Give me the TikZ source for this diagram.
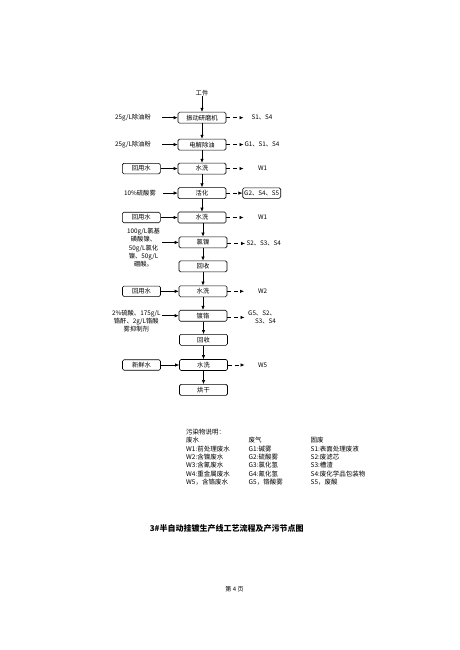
\documentclass[tikz,border=0pt]{standalone}
\usepackage{fontspec}
\setmainfont{Noto Sans CJK SC}
\usetikzlibrary{arrows.meta}
\begin{document}
\begin{tikzpicture}[x=1pt,y=-1pt,
  font=\fontsize{6.3}{8.3}\selectfont,
  proc/.style={draw,rounded corners=1.5pt,minimum width=48pt,minimum height=11pt,inner sep=0pt,line width=0.6pt},
  side/.style={draw,rounded corners=1.5pt,minimum width=38pt,minimum height=10.5pt,inner sep=0pt,line width=0.6pt},
  flow/.style={-{Latex[length=4pt,width=3.4pt]},line width=0.6pt},
  emit/.style={flow,dash pattern=on 4pt off 2.7pt},
  lbl/.style={inner sep=0pt},
  mlbl/.style={inner sep=0pt,align=center},
  leg/.style={inner sep=0pt,anchor=west,font=\fontsize{6.5}{8}\selectfont}]
\path[use as bounding box,fill=white] (0,0) rectangle (460,650);

% main process column
\node[lbl] (wp) at (202,93.2) {工件};
\node[proc] (p1) at (202,117.7) {振动研磨机};
\node[proc] (p2) at (202,144.6) {电解除油};
\node[proc] (p3) at (202,168.6) {水洗};
\node[proc] (p4) at (202,193.1) {活化};
\node[proc] (p5) at (202,217.5) {水洗};
\node[proc] (p6) at (203,242.4) {氯镍};
\node[proc] (p7) at (203,266.4) {回收};
\node[proc] (p8) at (203,291.3) {水洗};
\node[proc] (p9) at (203,315.7) {镀铬};
\node[proc] (p10) at (203.5,339.8) {回收};
\node[proc] (p11) at (203.5,365.0) {水洗};
\node[proc] (p12) at (203.5,389.9) {烘干};

\draw[flow] (wp) -- (p1);
\draw[flow] (p1) -- (p2);
\draw[flow] (p2) -- (p3);
\draw[flow] (p3) -- (p4);
\draw[flow] (p4) -- (p5);
\draw[flow] (p5.south -| p6) -- (p6);
\draw[flow] (p6) -- (p7);
\draw[flow] (p7) -- (p8);
\draw[flow] (p8) -- (p9);
\draw[flow] (p9.south -| p10) -- (p10);
\draw[flow] (p10) -- (p11);
\draw[flow] (p11) -- (p12);

% inputs on the left
\node[lbl] (i1) at (133,117.7) {25g/L除油粉};
\node[lbl] (i2) at (133,144.6) {25g/L除油粉};
\node[side] (i3) at (141.3,168.6) {回用水};
\node[lbl] (i4) at (140,193.1) {10\%硫酸雾};
\node[side] (i5) at (141.3,217.5) {回用水};
\node[mlbl] (i6) at (143.5,247.8) {100g/L氯基\\磺酸镍、\\50g/L氯化\\镍、50g/L\\硼酸。};
\node[side] (i8) at (141.5,291.3) {回用水};
\node[mlbl] (i9) at (136.3,321.1) {2\%硫酸、175g/L\\铬酐、2g/L铬酸\\雾抑制剂};
\node[side] (i11) at (141.5,365.0) {新鲜水};

\draw[flow,shorten <=11pt] (i1) -- (p1);
\draw[flow,shorten <=11pt] (i2) -- (p2);
\draw[flow] (i3) -- (p3);
\draw[flow,shorten <=7pt] (i4) -- (p4);
\draw[flow] (i5) -- (p5);
\draw[flow,shorten <=2pt] (i6.east |- p6) -- (p6);
\draw[flow] (i8) -- (p8);
\draw[flow,shorten <=1pt] (i9.east |- p9) -- (p9);
\draw[flow] (i11) -- (p11);

% emissions on the right
\coordinate (e1) at (243.5,117.7);
\coordinate (e2) at (243.5,144.6);
\coordinate (e3) at (243.5,168.6);
\coordinate (e5) at (243.5,217.5);
\coordinate (e6) at (245,243.5);
\coordinate (e8) at (244,291.3);
\coordinate (e9) at (244.5,317.4);
\coordinate (e11) at (244.5,365.0);

\node[lbl] (o1) at (262,117.7) {S1、S4};
\node[lbl] (o2) at (262,144.6) {G1、S1、S4};
\node[lbl] (o3) at (262.7,168.6) {W1};
\node[side] (o4) at (261.7,193.1) {G2、S4、S5};
\node[lbl] (o5) at (262.7,217.5) {W1};
\node[lbl] (o6) at (263.7,243.5) {S2、S3、S4};
\node[lbl] (o8) at (262.7,291.3) {W2};
\node[mlbl,align=right] (o9) at (262,317.2) {G5、S2、\\S3、S4};
\node[lbl] (o11) at (262.7,365.0) {W5};

\draw[emit] (p1) -- (e1);
\draw[emit] (p2) -- (e2);
\draw[emit] (p3) -- (e3);
\draw[emit] (p4) -- (o4);
\draw[emit] (p5) -- (e5);
\draw[emit] (p6.east |- e6) -- (e6);
\draw[emit] (p8) -- (e8);
\draw[emit] (p9.east |- e9) -- (e9);
\draw[emit] (p11) -- (e11);

% legend
\node[leg] (lg) at (186,432.2) {污染物说明：};
\node[leg] (hw) at (186,440.4) {废水};
\node[leg] (hg) at (248.5,440.4) {废气};
\node[leg] (hs) at (310.5,440.4) {固废};
\node[leg] (w1) at (186,448.7) {W1:前处理废水};
\node[leg] (w2) at (186,457.0) {W2:含镍废水};
\node[leg] (w3) at (186,465.3) {W3:含氰废水};
\node[leg] (w4) at (186,473.6) {W4:重金属废水};
\node[leg] (w5) at (186,481.9) {W5，含铬废水};
\node[leg] (g1) at (248.5,448.7) {G1:碱雾};
\node[leg] (g2) at (248.5,457.0) {G2:硫酸雾};
\node[leg] (g3) at (248.5,465.3) {G3:氯化氢};
\node[leg] (g4) at (248.5,473.6) {G4:氰化氢};
\node[leg] (g5) at (248.5,481.9) {G5，铬酸雾};
\node[leg] (s1) at (310.5,448.7) {S1:表面处理废液};
\node[leg] (s2) at (310.5,457.0) {S2:废滤芯};
\node[leg] (s3) at (310.5,465.3) {S3:槽渣};
\node[leg] (s4) at (310.5,473.6) {S4:废化学品包装物};
\node[leg] (s5) at (310.5,481.9) {S5，废酸};

% caption and page number
\node[lbl,font=\fontsize{8}{10}\selectfont\bfseries] (title) at (226.7,528.3) {3\#半自动挂镀生产线工艺流程及产污节点图};
\node[lbl,font=\fontsize{6}{8}\selectfont] (page) at (234.5,589.6) {第 4 页};
\end{tikzpicture}
\end{document}
